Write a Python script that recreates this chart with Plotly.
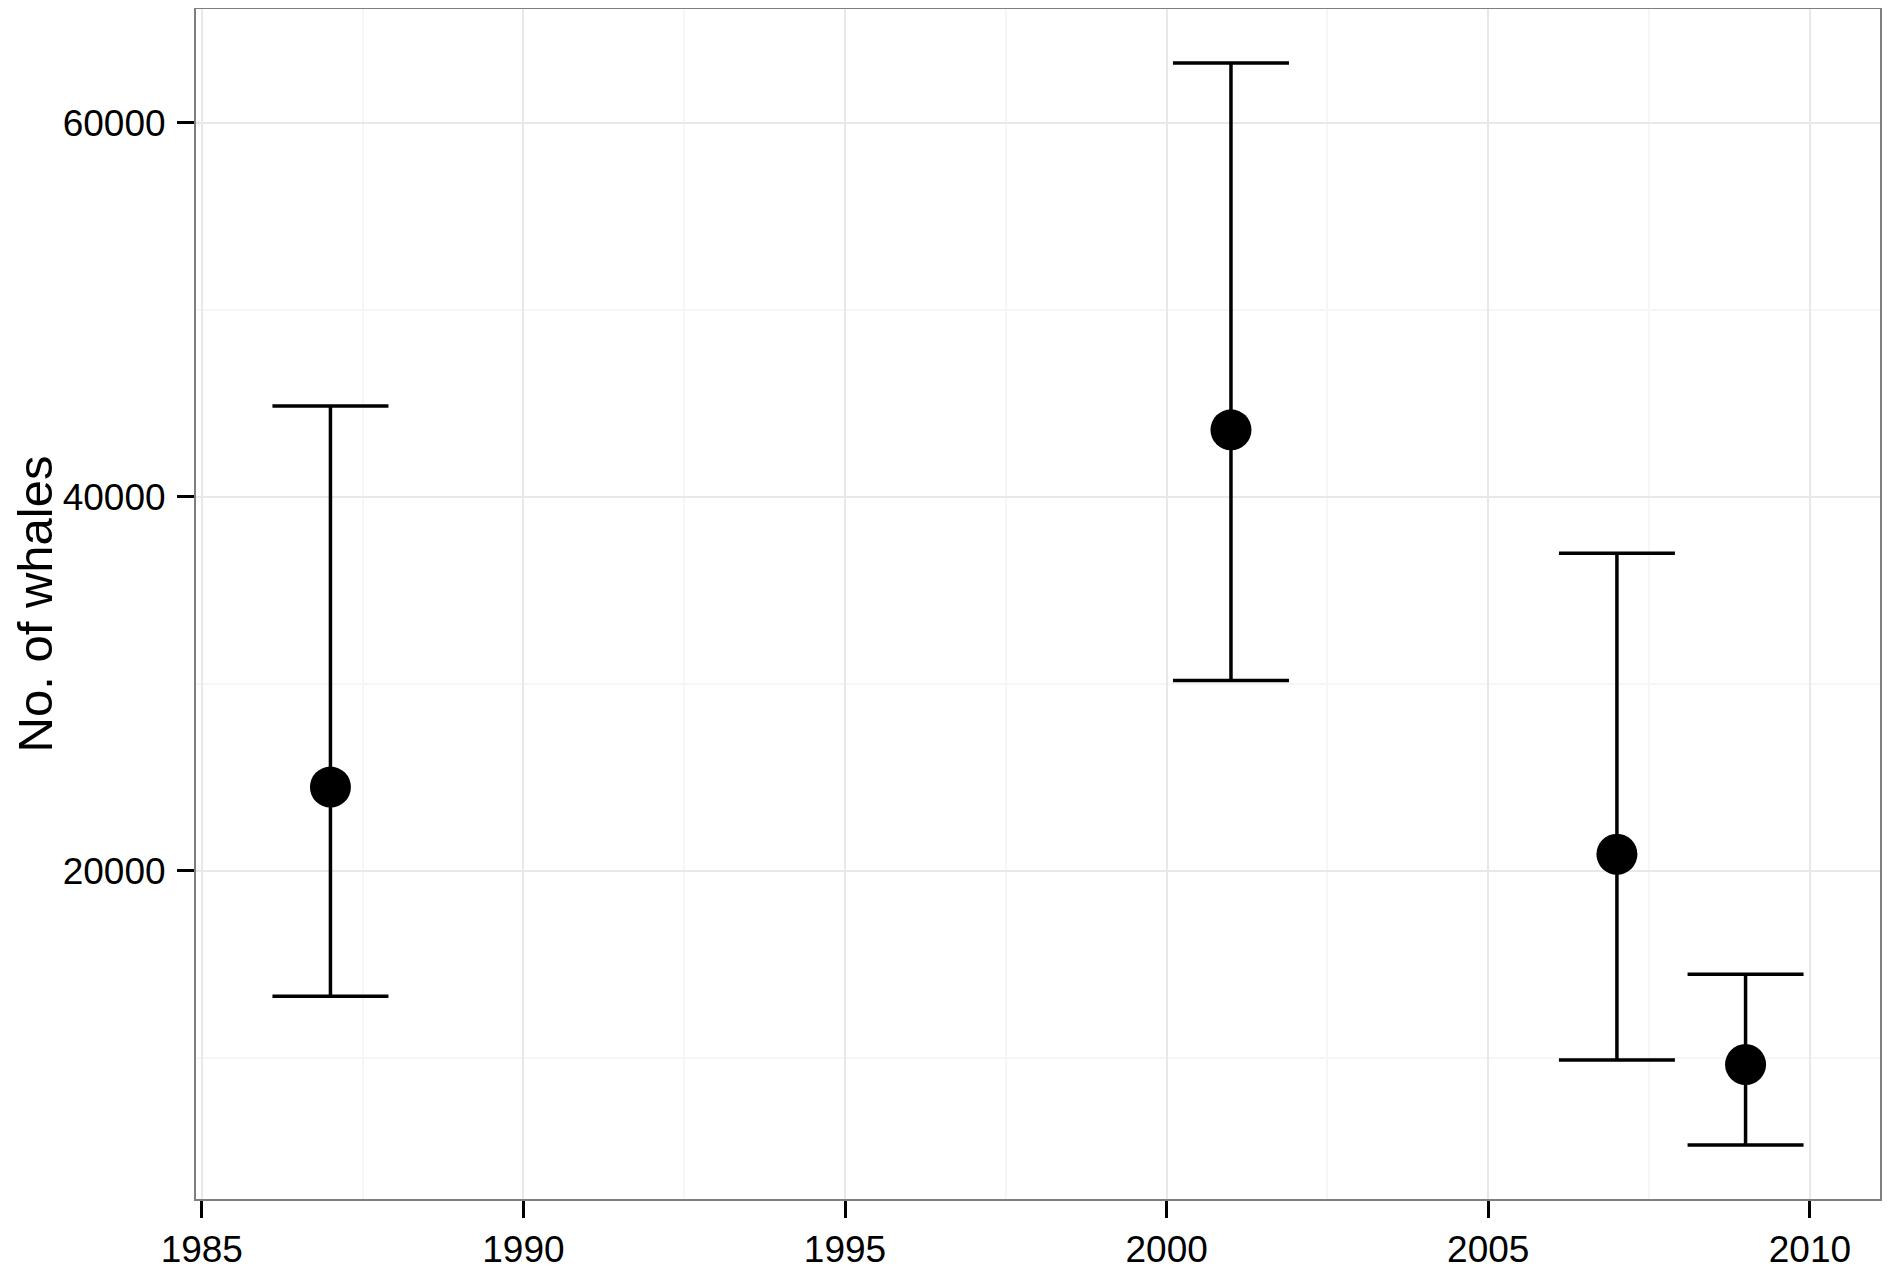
import plotly.graph_objects as go

years = [1987, 2001, 2007, 2009]
estimate = [24470, 43570, 20880, 9640]
lower = [13290, 30170, 9880, 5340]
upper = [44850, 63180, 36980, 14470]

x_ticks = [1985, 1990, 1995, 2000, 2005, 2010]
y_ticks = [20000, 40000, 60000]
y_labels = ["20000", "40000", "60000"]

BAR_HALF = 0.9  # errorbar cap half-width, in years

# ggplot-style 5% expansion of the data range
x_lo, x_hi = min(years) - BAR_HALF, max(years) + BAR_HALF
y_lo, y_hi = min(lower), max(upper)
x_pad = (x_hi - x_lo) * 0.05
y_pad = (y_hi - y_lo) * 0.05

FONT = "Liberation Sans, Arial, sans-serif"

fig = go.Figure()

fig.add_trace(go.Scatter(
    x=years,
    y=estimate,
    mode="markers",
    marker=dict(color="black", size=41),
    error_y=dict(
        type="data",
        symmetric=False,
        array=[u - e for u, e in zip(upper, estimate)],
        arrayminus=[e - l for e, l in zip(estimate, lower)],
        color="black",
        thickness=3.5,
        width=58,
    ),
    showlegend=False,
))

axis_common = dict(
    showline=True,
    mirror=True,
    linecolor="#7f7f7f",
    linewidth=2,
    ticks="outside",
    ticklen=17,
    tickwidth=3,
    tickcolor="black",
    tickfont=dict(family=FONT, size=37, color="black"),
    showgrid=True,
    gridcolor="#e8e8e8",
    gridwidth=1.5,
    zeroline=False,
    automargin=False,
)

fig.update_xaxes(
    **axis_common,
    range=[x_lo - x_pad, x_hi + x_pad],
    tickmode="array",
    tickvals=x_ticks,
    ticktext=[str(v) for v in x_ticks],
    minor=dict(tickvals=[1987.5, 1992.5, 1997.5, 2002.5, 2007.5],
               showgrid=True, gridcolor="#f6f6f6", gridwidth=1.5, ticks=""),
)

fig.update_yaxes(
    **axis_common,
    range=[y_lo - y_pad, y_hi + y_pad],
    tickmode="array",
    tickvals=y_ticks,
    ticktext=y_labels,
    ticklabelstandoff=4,
    minor=dict(tickvals=[10000, 30000, 50000],
               showgrid=True, gridcolor="#f6f6f6", gridwidth=1.5, ticks=""),
    title=dict(text="No. of whales",
               font=dict(family=FONT, size=49, color="black"),
               standoff=14),
)

# page body has an 8px margin, so the figure is a little smaller than the window
fig.update_layout(
    width=1882,
    height=1263,
    margin=dict(l=188, r=10, t=1, b=72),
    plot_bgcolor="white",
    paper_bgcolor="white",
)

fig.write_html("out.html")
